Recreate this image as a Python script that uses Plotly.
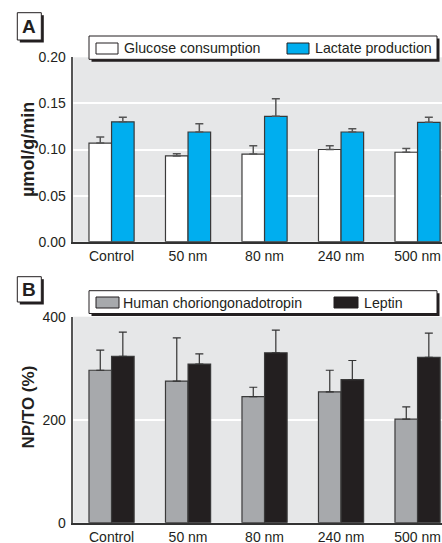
import plotly.graph_objects as go

categories = ["Control", "50 nm", "80 nm", "240 nm", "500 nm"]

glucose = [0.107, 0.093, 0.095, 0.100, 0.097]
glucose_err = [0.0065, 0.0024, 0.009, 0.004, 0.004]
lactate = [0.130, 0.119, 0.136, 0.119, 0.1295]
lactate_err = [0.005, 0.009, 0.019, 0.0036, 0.0055]

hcg = [296, 275, 245, 254, 201]
hcg_err = [39, 84, 18, 42, 24]
leptin = [323, 308, 330, 278, 321]
leptin_err = [47, 20, 44, 37, 47]

names_a = ["Glucose consumption", "Lactate production"]
names_b = ["Human choriongonadotropin", "Leptin"]
ytitle_a = "µmol/g/min"
ytitle_b = "NP/TO (%)"
yticks_a = [0.0, 0.05, 0.10, 0.15, 0.20]
yticks_b = [0, 200, 400]

COL_WHITE = "#ffffff"
COL_BLUE = "#00aeef"
COL_GRAY = "#a7a9ac"
COL_BLACK = "#231f20"
BG = "#e6e7e8"
FONT = "Liberation Sans Narrow, Arial Narrow, Liberation Sans, Arial, sans-serif"

W, H = 442, 543


def px(x):
    return x / W


def py(y):
    return 1 - y / H


fig = go.Figure()

bar_line = dict(color="#3a3a3a", width=1.2)


def add_bar(name, vals, errs, color, xa, ya, ecol, ethick):
    fig.add_trace(go.Bar(
        x=categories, y=vals, name=name, xaxis=xa, yaxis=ya,
        marker=dict(color=color, line=bar_line),
        error_y=dict(type="data", symmetric=False, array=errs,
                     arrayminus=[0] * len(errs), color=ecol,
                     thickness=ethick, width=4),
        showlegend=False,
    ))


add_bar(names_a[0], glucose, glucose_err, COL_WHITE, "x", "y", "#555555", 1.5)
add_bar(names_a[1], lactate, lactate_err, COL_BLUE, "x", "y", "#555555", 1.5)
add_bar(names_b[0], hcg, hcg_err, COL_GRAY, "x2", "y2", "#333333", 1.2)
add_bar(names_b[1], leptin, leptin_err, COL_BLACK, "x2", "y2", "#333333", 1.2)

left = 73.3
spacing = 76.5
xr = [-0.5, -0.5 + (W - left) / spacing]

TICKSIZE = 14

xcommon = dict(
    range=xr, domain=[px(left), 1], showgrid=False, showline=True,
    linecolor="#333333", linewidth=2, ticks="", ticklabelstandoff=0,
    automargin=False,
    tickfont=dict(family=FONT, size=TICKSIZE, color="#231f20"),
)
ycommon = dict(
    showgrid=True, gridcolor="#ffffff", gridwidth=1.5, showline=True,
    linecolor="#555555", linewidth=1.5, ticks="", zeroline=False,
    ticklabelstandoff=3, automargin=False,
    tickfont=dict(family=FONT, size=TICKSIZE, color="#231f20"),
)

fig.update_layout(
    width=W, height=H,
    margin=dict(l=0, r=0, t=0, b=0, autoexpand=False),
    paper_bgcolor="#ffffff", plot_bgcolor=BG,
    barmode="group", bargap=0.41, bargroupgap=0,
    font=dict(family=FONT, color="#231f20"),
    xaxis=dict(**xcommon, anchor="y"),
    yaxis=dict(**ycommon, anchor="x", domain=[py(241.7), py(57.3)],
               range=[0, 0.2], tickvals=yticks_a,
               ticktext=[f"{v:.2f}" for v in yticks_a]),
    xaxis2=dict(**xcommon, anchor="y2"),
    yaxis2=dict(**ycommon, anchor="x2", domain=[py(522.7), py(316.7)],
                range=[0, 400], tickvals=yticks_b,
                ticktext=[str(v) for v in yticks_b]),
)

shapes = []
annotations = []


def rect(x0, y0, x1, y1, fill, line_color=None, lw=0):
    shapes.append(dict(
        type="rect", xref="paper", yref="paper",
        x0=px(x0), x1=px(x1), y0=py(y1), y1=py(y0),
        fillcolor=fill, line=dict(color=line_color or fill, width=lw),
        layer="above",
    ))


def text(x, y, s, size, bold=False, xanchor="left"):
    annotations.append(dict(
        xref="paper", yref="paper", x=px(x), y=py(y), text=(f"<b>{s}</b>" if bold else s),
        showarrow=False, xanchor=xanchor, yanchor="middle",
        font=dict(family=FONT, size=size, color="#231f20"),
    ))


def legend_frame(x0, y0, x1, y1):
    rect(x0 + 2.5, y0 + 2.5, x1 + 2.5, y1 + 2.5, "#231f20")
    rect(x0, y0, x1, y1, "#ffffff", "#231f20", 1)


LEG = 14.2
legend_frame(89, 36, 437, 59.3)
rect(96, 43, 118, 54, COL_WHITE, "#231f20", 1)
text(122, 48, names_a[0], LEG)
rect(287, 43, 309, 54, COL_BLUE, "#231f20", 1)
text(313, 48, names_a[1], LEG)

legend_frame(89, 290.7, 437, 313.5)
rect(96, 297, 119, 308, COL_GRAY, "#231f20", 1)
text(121, 302.5, names_b[0], LEG)
rect(334, 297, 358, 308, COL_BLACK, "#231f20", 1)
text(362, 302.5, names_b[1], LEG)

legend_frame(17.3, 12.7, 41.3, 40)
text(29.3, 26.5, "A", 19, bold=True, xanchor="center")
legend_frame(17.3, 276.7, 41.3, 302)
text(29.3, 289.5, "B", 19, bold=True, xanchor="center")

for ytxt, yc, sz in [(ytitle_a, 150, 18), (ytitle_b, 407.5, 17)]:
    annotations.append(dict(
        xref="paper", yref="paper", x=px(28), y=py(yc), text=f"<b>{ytxt}</b>",
        showarrow=False, textangle=-90, xanchor="center", yanchor="middle",
        font=dict(family=FONT, size=sz, color="#231f20"),
    ))

fig.update_layout(shapes=shapes, annotations=annotations)

fig.write_html(
    "out.html",
    config={"displayModeBar": False},
    post_script="document.body.style.margin='0';document.body.style.overflow='hidden';",
)
